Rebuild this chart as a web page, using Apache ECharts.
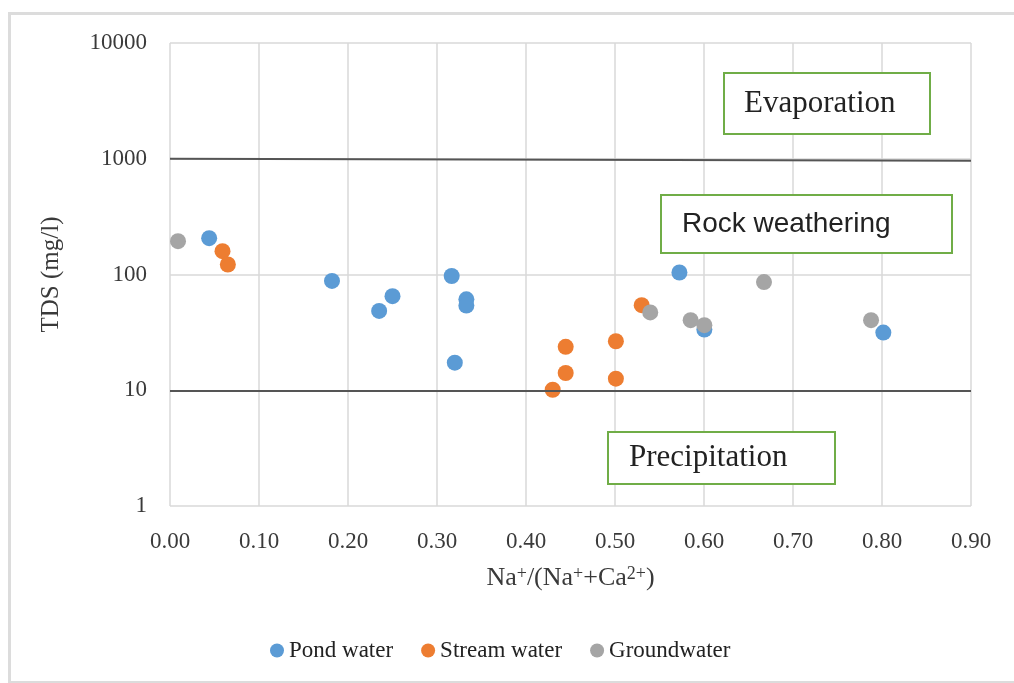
<!DOCTYPE html>
<html>
<head>
<meta charset="utf-8">
<script src="https://cdn.jsdelivr.net/npm/echarts@6/dist/echarts.min.js"></script>
<style>html,body{margin:0;padding:0;background:#fff;}#chart{width:1014px;height:683px;}</style>
</head>
<body>
<div id="chart"></div>
<script>
// x = Na+/(Na+ + Ca2+), y = TDS (mg/l)
const pondWater = [
  [0.044, 206], [0.182, 88], [0.235, 48.5], [0.250, 65], [0.3165, 97],
  [0.333, 61], [0.333, 54], [0.320, 17.3], [0.5724, 104], [0.6004, 33.5], [0.8015, 31.5]
];
const streamWater = [
  [0.059, 159], [0.065, 122], [0.430, 10.1], [0.4446, 14.1], [0.4446, 23.7],
  [0.501, 26.5], [0.501, 12.6], [0.530, 54.3]
];
const groundwater = [
  [0.009, 194], [0.5396, 47], [0.585, 40.3], [0.6004, 36.5], [0.6674, 86], [0.7877, 40.3]
];
const seriesNames = ['Pond water', 'Stream water', 'Groundwater'];
const seriesColors = ['#5B9BD5', '#ED7D31', '#A5A5A5'];
// boundary lines: [[x1,y1],[x2,y2]]
const evaporationLine = [[0, 1000], [0.9, 960]];
const precipitationLine = [[0, 10], [0.9, 10]];
const xTicks = [0, 0.1, 0.2, 0.3, 0.4, 0.5, 0.6, 0.7, 0.8, 0.9];
const yTicks = [1, 10, 100, 1000, 10000];

const serif = '"Liberation Serif", "Times New Roman", serif';
const txt = '#3a3a3a';
const chart = echarts.init(document.getElementById('chart'));

function boxText(left, top, w, h, label, font, size, padLeft) {
  return {
    type: 'group', left: left, top: top, z: 100,
    children: [
      { type: 'rect', z: 100, shape: { x: 0, y: 0, width: w, height: h },
        style: { fill: '#fff', stroke: '#70AD47', lineWidth: 2 } },
      { type: 'text', z: 101, x: padLeft, y: h / 2,
        style: { text: label, font: size + 'px ' + font, fill: '#222', verticalAlign: 'middle' } }
    ]
  };
}

const option = {
  backgroundColor: '#fff',
  animation: false,
  grid: { left: 170, right: 43, top: 43, bottom: 177 },
  xAxis: {
    type: 'value', min: xTicks[0], max: xTicks[xTicks.length - 1], interval: 0.1,
    name: '{b|Na}{s|+}{b|/(Na}{s|+}{b|+Ca}{s|2+}{b|)}', nameLocation: 'middle', nameGap: 59,
    nameTextStyle: { fontFamily: serif, fontSize: 26, color: txt,
      rich: {
        b: { fontFamily: serif, fontSize: 26, color: txt },
        s: { fontFamily: serif, fontSize: 18, color: txt, verticalAlign: 'top' }
      } },
    axisLine: { show: false }, axisTick: { show: false },
    axisLabel: { fontFamily: serif, fontSize: 23, color: txt, margin: 24,
      formatter: v => v.toFixed(2) },
    splitLine: { show: true, lineStyle: { color: '#d9d9d9', width: 1.5 } }
  },
  yAxis: {
    type: 'log', logBase: 10, min: yTicks[0], max: yTicks[yTicks.length - 1],
    name: 'TDS (mg/l)', nameLocation: 'middle', nameGap: 106, nameRotate: 90,
    nameTextStyle: { fontFamily: serif, fontSize: 25, color: txt },
    axisLine: { show: false }, axisTick: { show: false },
    axisLabel: { fontFamily: serif, fontSize: 23, color: txt, margin: 23,
      formatter: v => String(Math.round(v)) },
    splitLine: { show: true, lineStyle: { color: '#d9d9d9', width: 1.5 } }
  },
  legend: {
    data: seriesNames, left: 265, top: 634, icon: 'circle',
    itemWidth: 14, itemHeight: 14, itemGap: 28,
    textStyle: { fontFamily: serif, fontSize: 23, color: '#222' }
  },
  series: [
    { name: 'boundaries', type: 'line', data: [], silent: true,
      markLine: { symbol: 'none', silent: true, label: { show: false },
        lineStyle: { color: '#555', width: 2, type: 'solid' },
        data: [
          [{ coord: evaporationLine[0] }, { coord: evaporationLine[1] }],
          [{ coord: precipitationLine[0] }, { coord: precipitationLine[1] }]
        ] } },
    { name: seriesNames[0], type: 'scatter', data: pondWater, symbolSize: 16,
      itemStyle: { color: seriesColors[0], opacity: 1 } },
    { name: seriesNames[1], type: 'scatter', data: streamWater, symbolSize: 16,
      itemStyle: { color: seriesColors[1], opacity: 1 } },
    { name: seriesNames[2], type: 'scatter', data: groundwater, symbolSize: 16,
      itemStyle: { color: seriesColors[2], opacity: 1 } }
  ],
  graphic: [
    { type: 'rect', left: 7, top: 11, shape: { width: 1020, height: 669 },
      style: { fill: 'none', stroke: '#dcdcdc', lineWidth: 3 }, z: -1 },
    boxText(723, 72, 206, 61, 'Evaporation', serif, 31, 20),
    boxText(660, 194, 291, 58, 'Rock weathering', '"Liberation Sans", Arial, sans-serif', 28, 21),
    boxText(607, 431, 227, 52, 'Precipitation', serif, 31, 21)
  ]
};
chart.setOption(option);
</script>
</body>
</html>
